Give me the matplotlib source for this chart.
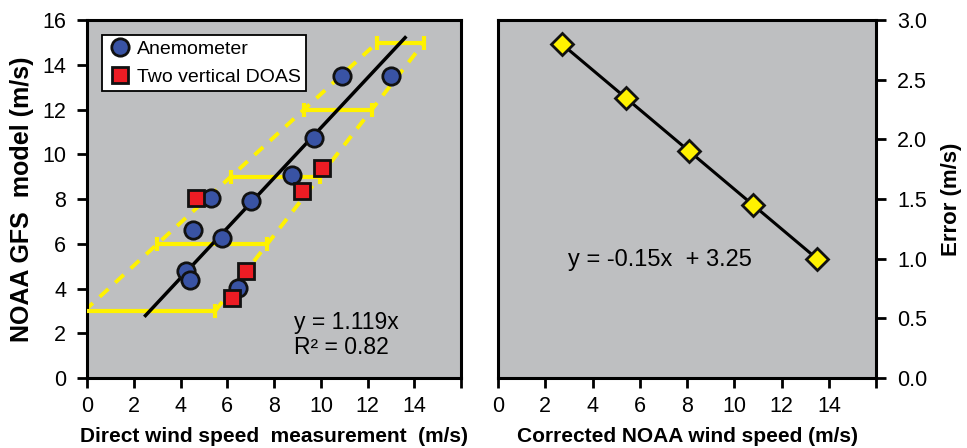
import matplotlib.pyplot as plt

plt.rcParams['font.family'] = ['Liberation Sans', 'DejaVu Sans']

# anemometer vs model
anem_x = [10.9, 13.0, 9.7, 8.75, 5.3, 7.0, 4.55, 5.75, 4.25, 4.4, 6.45]
anem_y = [13.5, 13.5, 10.75, 9.1, 8.05, 7.9, 6.6, 6.25, 4.8, 4.4, 4.05]
# two vertical DOAS vs model
doas_x = [4.65, 9.2, 10.05, 6.8, 6.2]
doas_y = [8.05, 8.35, 9.4, 4.8, 3.6]

slope = 1.119
fit_x = [2.5, 13.6]

# error estimate vs corrected wind speed (right panel)
corr_speed = [2.7, 5.4, 8.1, 10.8, 13.5]
error = [2.8, 2.35, 1.9, 1.45, 1.0]
# model levels where the error bars are drawn
bar_y = [3, 6, 9, 12, 15]

gray = '#bebfc1'
yellow = '#fff200'
blue = '#3953a4'
red = '#ed1c24'

fig = plt.figure(figsize=(9.67, 4.48), dpi=100)
ax1 = fig.add_axes([0.090, 0.156, 0.387, 0.799])
ax2 = fig.add_axes([0.515, 0.156, 0.391, 0.799])

for ax in (ax1, ax2):
    ax.set_facecolor(gray)
    for s in ax.spines.values():
        s.set_linewidth(2.2)
    ax.set_xlim(0, 16)
    ax.set_xticks(range(0, 17, 2))
    ax.set_xticklabels([str(v) for v in range(0, 15, 2)] + [''])
    ax.tick_params(direction='out', length=7, width=2, labelsize=15.5)
    ax.tick_params(axis='x', pad=6)

# left panel
centers = [y / slope for y in bar_y]
left_ends = [c - e for c, e in zip(centers, error)]
right_ends = [c + e for c, e in zip(centers, error)]
ax1.plot(left_ends, bar_y, '--', color=yellow, lw=2.8, dashes=(3, 2.4), zorder=2)
ax1.plot(right_ends, bar_y, '--', color=yellow, lw=2.8, dashes=(3, 2.4), zorder=2)
ax1.errorbar(centers, bar_y, xerr=error, fmt='none', ecolor=yellow, elinewidth=3,
             capsize=5, capthick=3, zorder=3)
ax1.plot(fit_x, [slope * v for v in fit_x], color='black', lw=2.5, zorder=4)
ax1.plot(anem_x, anem_y, 'o', ms=12.5, mfc=blue, mec='#111111', mew=2, zorder=5,
         label='Anemometer')
ax1.plot(doas_x, doas_y, 's', ms=11, mfc=red, mec='#111111', mew=2, zorder=6,
         label='Two vertical DOAS')
ax1.set_ylim(0, 16)
ax1.set_yticks(range(0, 17, 2))
ax1.tick_params(axis='y', pad=8)
ax1.text(8.85, 1.1, 'y = 1.119x\nR² = 0.82', fontsize=16.5, linespacing=1.1)
ax1.set_xlabel('Direct wind speed  measurement  (m/s)', fontsize=15, fontweight='bold', labelpad=7)
ax1.set_ylabel('NOAA GFS  model (m/s)', fontsize=18, fontweight='bold', labelpad=6)
leg = ax1.legend(loc='upper left', fontsize=14, frameon=True, fancybox=False,
                 edgecolor='black', framealpha=1, borderpad=0.3, handletextpad=0.2,
                 handlelength=1.3, labelspacing=0.5, borderaxespad=0.75)
leg.get_frame().set_linewidth(1.3)

# right panel
ax2.plot(corr_speed, error, '-', color='black', lw=2.2, zorder=3)
ax2.plot(corr_speed, error, 'D', ms=11.5, mfc=yellow, mec='#111111', mew=2, zorder=4)
ax2.set_ylim(0, 3.0)
ax2.yaxis.tick_right()
ax2.yaxis.set_label_position('right')
ax2.set_yticks([0, 0.5, 1.0, 1.5, 2.0, 2.5, 3.0])
ax2.set_yticklabels(['0.0', '0.5', '1.0', '1.5', '2.0', '2.5', '3.0'])
ax2.tick_params(axis='y', pad=8)
ax2.text(2.95, 0.99, 'y = -0.15x  + 3.25', fontsize=17, va='center')
ax2.set_xlabel('Corrected NOAA wind speed (m/s)', fontsize=15, fontweight='bold', labelpad=7)
ax2.set_ylabel('Error (m/s)', fontsize=16, fontweight='bold', labelpad=10)

fig.savefig('out.png', dpi=100)
